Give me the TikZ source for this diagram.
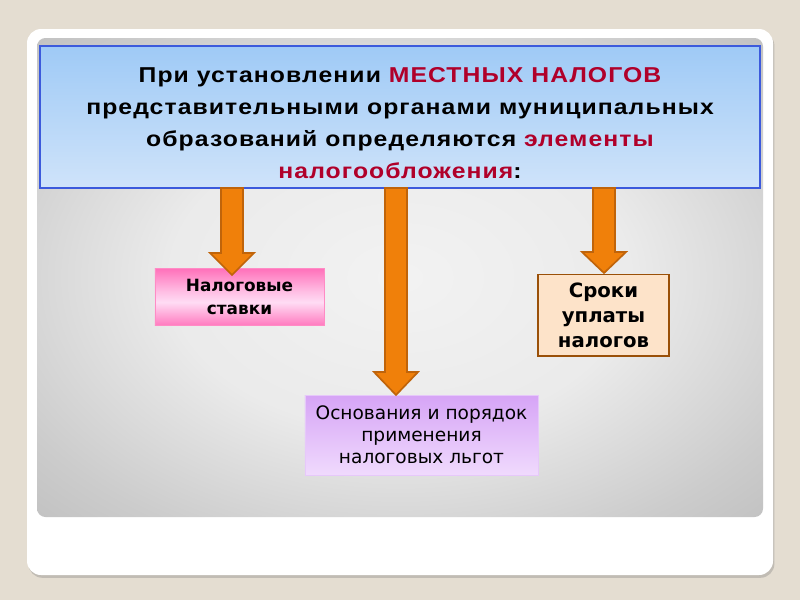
\documentclass[tikz,border=0pt]{standalone}
\usepackage{fontspec}
\setmainfont{Liberation Sans}
\newfontfamily\titlefont[FakeStretch=1.15,LetterSpace=5]{Liberation Sans}
\newfontfamily\boxfont{DejaVu Sans}
\usetikzlibrary{shadows}

\definecolor{pagebg}{HTML}{E4DDD1}
\definecolor{pipefill}{HTML}{F0800A}
\definecolor{pipeline}{HTML}{C0640A}
\definecolor{hilite}{HTML}{B0002A}
\definecolor{skytop}{HTML}{9FCAF6}
\definecolor{skybot}{HTML}{CFE3FA}
\definecolor{skyline}{HTML}{3C5ADC}
\definecolor{rosedark}{HTML}{FF3D9E}
\definecolor{roselight}{HTML}{FFDCF4}
\definecolor{lilactop}{HTML}{D6A4F6}
\definecolor{lilacbot}{HTML}{F0DAFD}
\definecolor{peach}{HTML}{FDE3C9}
\pgfdeclareradialshading{panelshade}{\pgfpoint{0bp}{0bp}}{%
  color(0bp)=(black!5); color(16bp)=(black!8); color(30bp)=(black!20); color(50bp)=(black!34);
  color(71bp)=(black!42); color(100bp)=(black!44)}
\pgfdeclareverticalshading{roseshade}{100bp}{%
  color(0bp)=(rosedark); color(12bp)=(rosedark); color(45bp)=(roselight); color(55bp)=(roselight!80!rosedark);
  color(88bp)=(rosedark); color(100bp)=(rosedark)}

\begin{document}
\begin{tikzpicture}[x=0.025cm,y=-0.025cm,
    textbox/.style={draw,inner sep=2pt,align=center,text=black},
    pipe/.style={fill=pipefill,draw=pipeline,line width=1.2pt,line join=miter}]
  % page, card and grey panel
  \fill[pagebg] (0,0) rectangle (800,600);
  \fill[white,rounded corners=10,drop shadow={shadow xshift=1pt,shadow yshift=-2pt,opacity=0.35}] (27,29) rectangle (773,575);
  \path[shading=panelshade,rounded corners=6] (37,38) rectangle (763,517);
  % title box
  \node[textbox,draw=skyline,line width=1pt,top color=skytop,bottom color=skybot,
        minimum width=18cm,minimum height=3.55cm] (main) at (400,117) {};
  \node[align=center,font=\titlefont\bfseries\fontsize{15.3}{22.8}\selectfont] (maintext) at (400,123)
    {При установлении {\color{hilite}МЕСТНЫХ НАЛОГОВ}\\
     представительными органами муниципальных\\
     образований определяются {\color{hilite}элементы}\\
     {\color{hilite}налогообложения}:};
  % elements
  \node[textbox,draw=rosedark!60!white,line width=0.4pt,shading=roseshade,
        minimum width=4.225cm,minimum height=1.425cm,
        font=\boxfont\bfseries\fontsize{12}{16.4}\selectfont] (rates) at (239.5,296.5)
    {Налоговые\\ставки};
  \node[textbox,draw=pipeline!80!black,line width=1.4pt,fill=peach,
        minimum width=3.275cm,minimum height=2.025cm,
        font=\boxfont\bfseries\fontsize{14}{17.8}\selectfont] (terms) at (603.5,315)
    {Сроки\\уплаты\\налогов};
  \node[textbox,draw=lilactop!60!white,line width=0.4pt,top color=lilactop,bottom color=lilacbot,
        minimum width=5.825cm,minimum height=2cm,
        font=\boxfont\fontsize{13.2}{15.8}\selectfont] (relief) at (421.5,435)
    {Основания и порядок\\применения\\налоговых льгот};
  % arrows
  \foreach \cx/\hy/\ty in {232/253/275, 396/372/395, 604/252/273}
    \draw[pipe] (\cx-11,188) -- (\cx-11,\hy) -- (\cx-22,\hy) -- (\cx,\ty)
                -- (\cx+22,\hy) -- (\cx+11,\hy) -- (\cx+11,188) -- cycle;
\end{tikzpicture}
\end{document}
